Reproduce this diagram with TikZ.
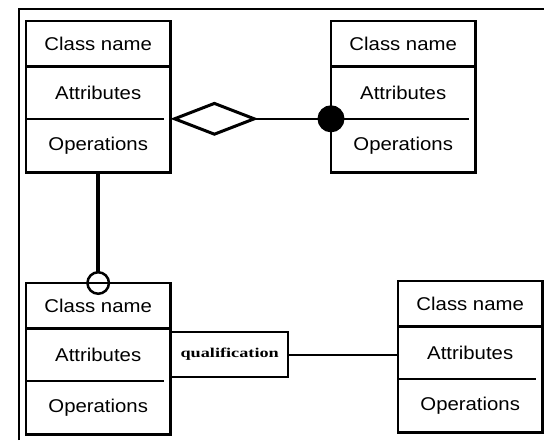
\documentclass[tikz,border=0pt]{standalone}
\usepackage{fontspec}
\newfontfamily\classfont[FakeStretch=1.1]{Liberation Sans}
\newfontfamily\qualfont[FakeStretch=1.35]{Liberation Serif}
\usetikzlibrary{arrows.meta, positioning}

\begin{document}
\begin{tikzpicture}[
    x=1pt, y=-1pt,
    part/.style={
        inner sep=0pt, minimum width=144pt,
        font=\classfont\fontsize{18.5}{20}\selectfont
    },
    namepart/.style={part, minimum height=45pt},
    attrpart/.style={part, minimum height=52pt},
    opspart/.style={part, minimum height=53pt},
    qualbox/.style={
        rectangle, draw, line width=1.6pt, inner sep=0pt,
        minimum width=117pt, minimum height=45pt,
        font=\qualfont\bfseries\fontsize{13.5}{16}\selectfont
    },
    link/.style={line width=2pt},
]
\useasboundingbox (0,0) rectangle (544,440);

\draw[line width=2pt] (19,440) -- (19,9) -- (544,9);

\node[namepart, anchor=north west] (name1) at (26,21) {Class name};
\node[attrpart, below=0pt of name1] (attr1) {Attributes};
\node[opspart, below=0pt of attr1]  (ops1)  {Operations};

\node[namepart, anchor=north west] (name2) at (331,21) {Class name};
\node[attrpart, below=0pt of name2] (attr2) {Attributes};
\node[opspart, below=0pt of attr2]  (ops2)  {Operations};

\node[namepart, anchor=north west] (name3) at (26,283) {Class name};
\node[attrpart, below=0pt of name3] (attr3) {Attributes};
\node[opspart, below=0pt of attr3]  (ops3)  {Operations};

\node[namepart, anchor=north west] (name4) at (398,281) {Class name};
\node[attrpart, below=0pt of name4] (attr4) {Attributes};
\node[opspart, below=0pt of attr4]  (ops4)  {Operations};

\foreach \c in {1,...,4} {
    \draw[line width=2.8pt] (name\c.north west) rectangle (ops\c.south east);
    \draw[line width=2.8pt] (name\c.south west) -- (name\c.south east);
    \draw[line width=1.4pt] (attr\c.south west) -- ([xshift=-6pt]attr\c.south east);
}

\node[qualbox, right=0pt of attr3] (qual) {qualification};

\draw[link, {Diamond[open, length=88pt, width=34pt, line width=3pt]}-{Circle[length=27pt]}, shorten >=-13.5pt]
    (attr1.south east) -- (attr2.south west);
\draw[line width=4pt, -{Circle[open, length=24pt, line width=2.5pt]}, shorten >=-12pt]
    (ops1.south) -- (name3.north);
\draw[link] (qual.east) -- (qual.east -| attr4.west);

\end{tikzpicture}
\end{document}
